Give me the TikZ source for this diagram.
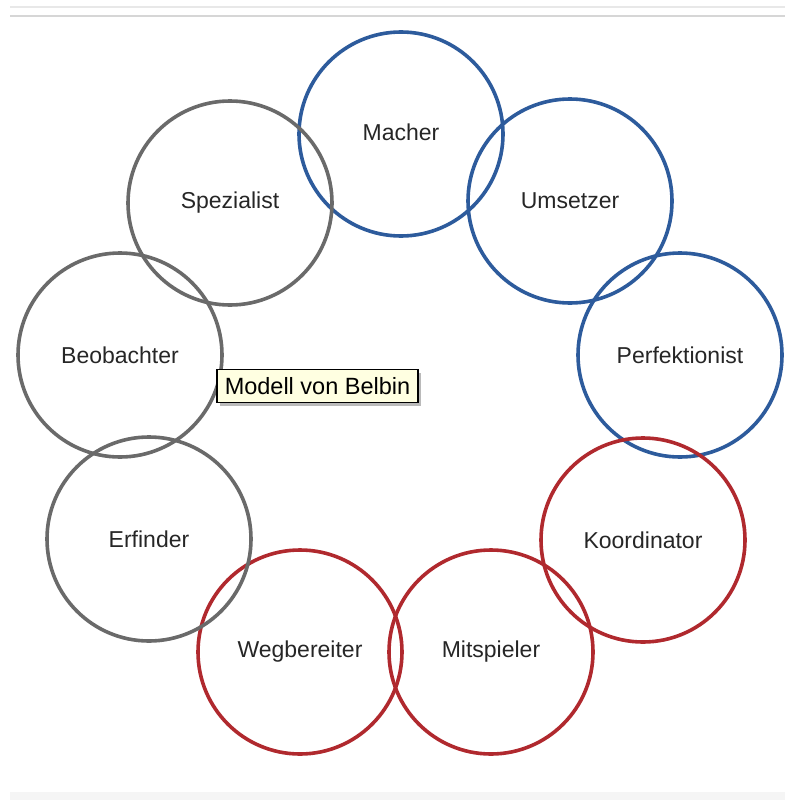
\documentclass[tikz,border=0pt]{standalone}
\usepackage{fontspec}
\setmainfont{Liberation Sans}
\usetikzlibrary{shadows}
\definecolor{roleblue}{HTML}{2D5B9C}
\definecolor{rolegrey}{HTML}{6A6A6A}
\definecolor{rolered}{HTML}{B0292E}
\definecolor{tipfill}{HTML}{FFFFE1}
\begin{document}
\begin{tikzpicture}[x=1pt,y=-1pt,
  role/.style={circle,draw=#1,line width=3.6pt,minimum size=204pt,inner sep=0pt,
    font=\fontsize{23}{26}\selectfont,text=black!85},
  tip/.style={draw=black,line width=1.2pt,fill=tipfill,minimum width=201pt,minimum height=33pt,
    inner sep=0pt,font=\fontsize{23.5}{26}\selectfont,
    drop shadow={shadow xshift=3pt,shadow yshift=-3pt,fill=black!45,opacity=0.6}},
  rule/.style={line width=#1}]
\useasboundingbox (0,0) rectangle (785,800);
% page rules at the top and bottom
\draw[rule=1.5pt,black!9] (10,7) -- (785,7);
\draw[rule=2.2pt,black!16] (10,16) -- (785,16);
\fill[black!4] (10,792) rectangle (785,800);
% the nine team roles
\node[role=roleblue] (macher) at (401,134) {\raisebox{4pt}{Macher}};
\node[role=roleblue] (umsetzer) at (570,201) {Umsetzer};
\node[role=roleblue] (perf) at (680,355) {Perfektionist};
\node[role=rolered] (koord) at (643,540) {Koordinator};
\node[role=rolered] (mitsp) at (491,652) {Mitspieler};
\node[role=rolered] (wegb) at (300,652) {Wegbereiter};
\node[role=rolegrey] (erf) at (149,539) {Erfinder};
\node[role=rolegrey] (beob) at (120,355) {Beobachter};
\node[role=rolegrey] (spez) at (230,203) {Spezialist};
% caption box
\node[tip] (tip) at (317.5,386) {Modell von Belbin};
\end{tikzpicture}
\end{document}
